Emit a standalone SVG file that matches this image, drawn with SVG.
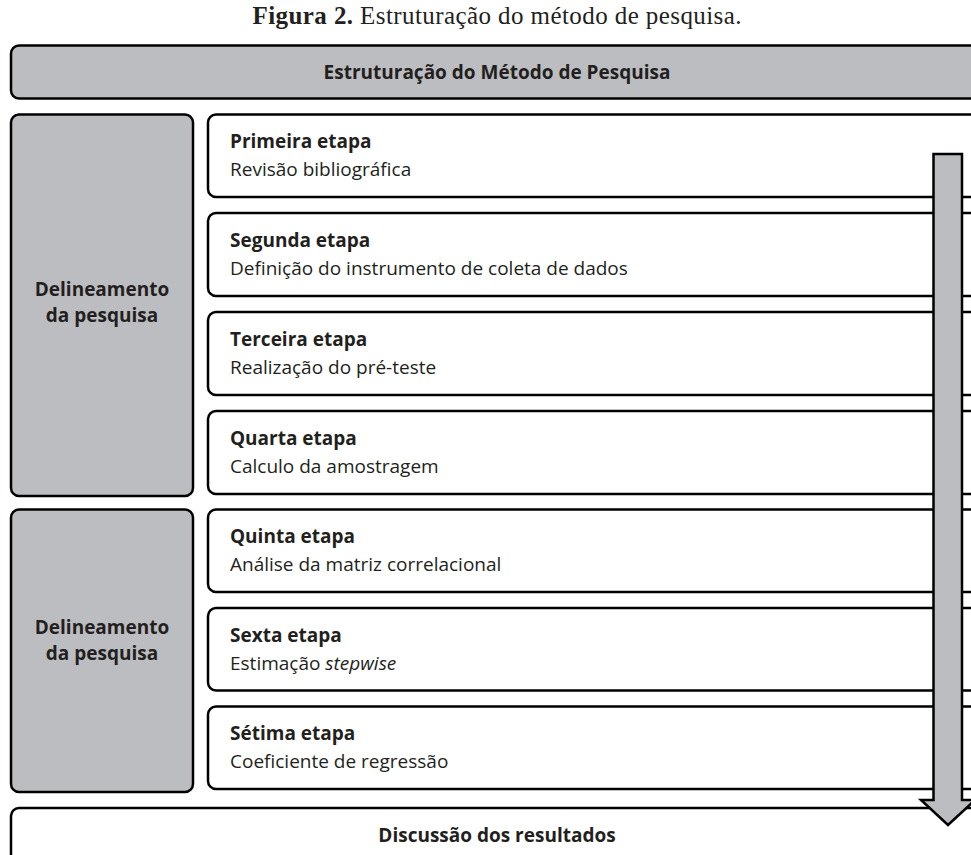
<svg xmlns="http://www.w3.org/2000/svg" width="971" height="855" viewBox="0 0 971 855">
<style>
.gray{fill:#bcbdc0;stroke:#000;stroke-width:2.5}
.white{fill:#fff;stroke:#000;stroke-width:2.5}
.t{font-family:"Open Sans","Liberation Sans",sans-serif;font-size:19px;fill:#231f20}
.b{font-weight:bold}
.c{text-anchor:middle}
.cap{font-family:"Liberation Serif","DejaVu Serif",serif;font-size:25px;fill:#231f20;text-anchor:middle}
</style>
<rect width="971" height="855" fill="#fff"/>
<text class="cap" x="497" y="24" textLength="489" lengthAdjust="spacing"><tspan font-weight="bold">Figura 2.</tspan> Estruturação do método de pesquisa.</text>
<g id="header">
<rect class="gray" x="11" y="45.5" width="980" height="53" rx="8"/>
<text class="t b c" x="497" y="79">Estruturação do Método de Pesquisa</text>
</g>
<g id="group1">
<rect class="gray" x="11" y="114.5" width="182" height="381.5" rx="8"/>
<text class="t b c" x="102" y="296">Delineamento</text>
<text class="t b c" x="102" y="322">da pesquisa</text>
</g>
<g id="group2">
<rect class="gray" x="11" y="509.5" width="182" height="282.5" rx="8"/>
<text class="t b c" x="102" y="634">Delineamento</text>
<text class="t b c" x="102" y="660">da pesquisa</text>
</g>
<g id="step1">
<rect class="white" x="208" y="114.5" width="790" height="82.5" rx="8"/>
<text class="t b" x="230" y="148">Primeira etapa</text>
<text class="t" x="230" y="176">Revisão bibliográfica</text>
</g>
<g id="step2">
<rect class="white" x="208" y="213" width="790" height="83" rx="8"/>
<text class="t b" x="230" y="247">Segunda etapa</text>
<text class="t" x="230" y="275">Definição do instrumento de coleta de dados</text>
</g>
<g id="step3">
<rect class="white" x="208" y="312" width="790" height="83" rx="8"/>
<text class="t b" x="230" y="346">Terceira etapa</text>
<text class="t" x="230" y="374">Realização do pré-teste</text>
</g>
<g id="step4">
<rect class="white" x="208" y="411" width="790" height="83" rx="8"/>
<text class="t b" x="230" y="445">Quarta etapa</text>
<text class="t" x="230" y="473">Calculo da amostragem</text>
</g>
<g id="step5">
<rect class="white" x="208" y="509.5" width="790" height="82.5" rx="8"/>
<text class="t b" x="230" y="543">Quinta etapa</text>
<text class="t" x="230" y="571">Análise da matriz correlacional</text>
</g>
<g id="step6">
<rect class="white" x="208" y="608" width="790" height="82.5" rx="8"/>
<text class="t b" x="230" y="642">Sexta etapa</text>
<text class="t" x="230" y="670">Estimação <tspan font-style="italic">stepwise</tspan></text>
</g>
<g id="step7">
<rect class="white" x="208" y="706.5" width="790" height="82.5" rx="8"/>
<text class="t b" x="230" y="740">Sétima etapa</text>
<text class="t" x="230" y="768">Coeficiente de regressão</text>
</g>
<g id="result">
<rect class="white" x="11" y="808" width="985" height="70" rx="8"/>
<text class="t b c" x="497" y="842">Discussão dos resultados</text>
</g>
<g id="connectors">
<path class="gray" d="M933.5,154 H962 V800 H975 L948,825 L921,800 H933.5 Z"/>
</g>
</svg>
